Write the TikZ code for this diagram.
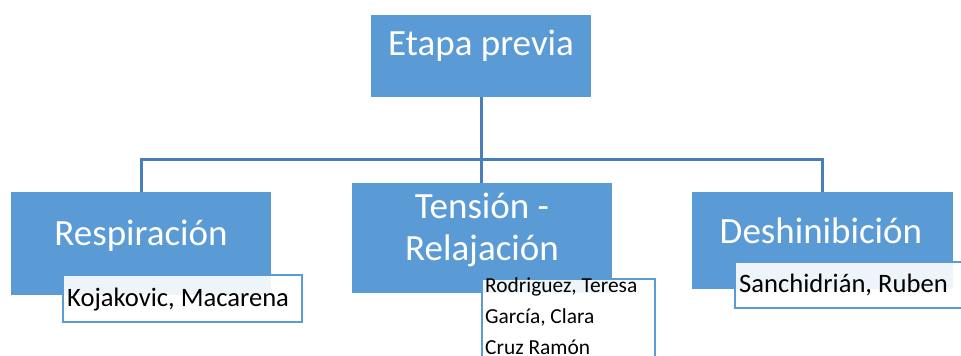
\documentclass[tikz,border=0pt]{standalone}
\usepackage{fontspec}
\setmainfont{Carlito}
\definecolor{boxblue}{RGB}{91,155,213}
\definecolor{linblue}{RGB}{74,126,187}
\begin{document}
\begin{tikzpicture}[x=1pt,y=-1pt,
  mainbox/.style={draw=none,fill=boxblue,inner sep=0pt,anchor=center},
  subbox/.style={draw=boxblue,line width=1.8pt,fill=white,fill opacity=0.9,inner sep=0pt,anchor=center},
  conn/.style={draw=linblue,line width=3pt},
  bigtxt/.style={text=white,font=\fontsize{37}{44}\selectfont,anchor=base,inner sep=0pt},
  smalltxt/.style={text=black,font=\fontsize{26.6}{31}\selectfont,anchor=base west,inner sep=0pt},
  listtxt/.style={text=black,font=\fontsize{21.4}{31}\selectfont,anchor=base west,inner sep=0pt}]
\useasboundingbox (0,0) rectangle (961,356);
\clip (0,0) rectangle (961,356);
% main boxes
\node[mainbox,minimum width=220pt,minimum height=82pt] (top) at (481,56) {};
\node[mainbox,minimum width=260pt,minimum height=103pt] (left) at (141,243.5) {};
\node[mainbox,minimum width=260pt,minimum height=110pt] (mid) at (482,238) {};
\node[mainbox,minimum width=261pt,minimum height=97pt] (right) at (822,240.5) {};
% connectors
\coordinate (hb) at (481,159);
\draw[conn] (top.south) -- (hb);
\draw[conn] (hb) -| (left.north);
\draw[conn] (hb) -| (right.north);
\draw[conn] (hb) -- (hb |- mid.north);
% main texts
\node[bigtxt] (ttop) at (481,55) {Etapa previa};
\node[bigtxt] (tleft) at (141,245) {Respiración};
\node[bigtxt] (tmid1) at (482,218) {Tensión -};
\node[bigtxt] (tmid2) at (482,260) {Relajación};
\node[bigtxt] (tright) at (821,243) {Deshinibición};
% sub boxes
\node[subbox,minimum width=239pt,minimum height=47pt] (sleft) at (182.5,298.5) {};
\node[subbox,minimum width=173pt,minimum height=100pt] (smid) at (568.5,329) {};
\node[subbox,minimum width=240pt,minimum height=46pt] (sright) at (855,285) {};
% sub texts
\node[smalltxt] (k) at (67,306) {Kojakovic, Macarena};
\node[smalltxt] (s) at (739,292) {Sanchidrián, Ruben};
\node[listtxt] (l1) at (485,292) {Rodriguez, Teresa};
\node[listtxt] (l2) at (485,323) {García, Clara};
\node[listtxt] (l3) at (485,354) {Cruz Ramón};
\end{tikzpicture}
\end{document}
